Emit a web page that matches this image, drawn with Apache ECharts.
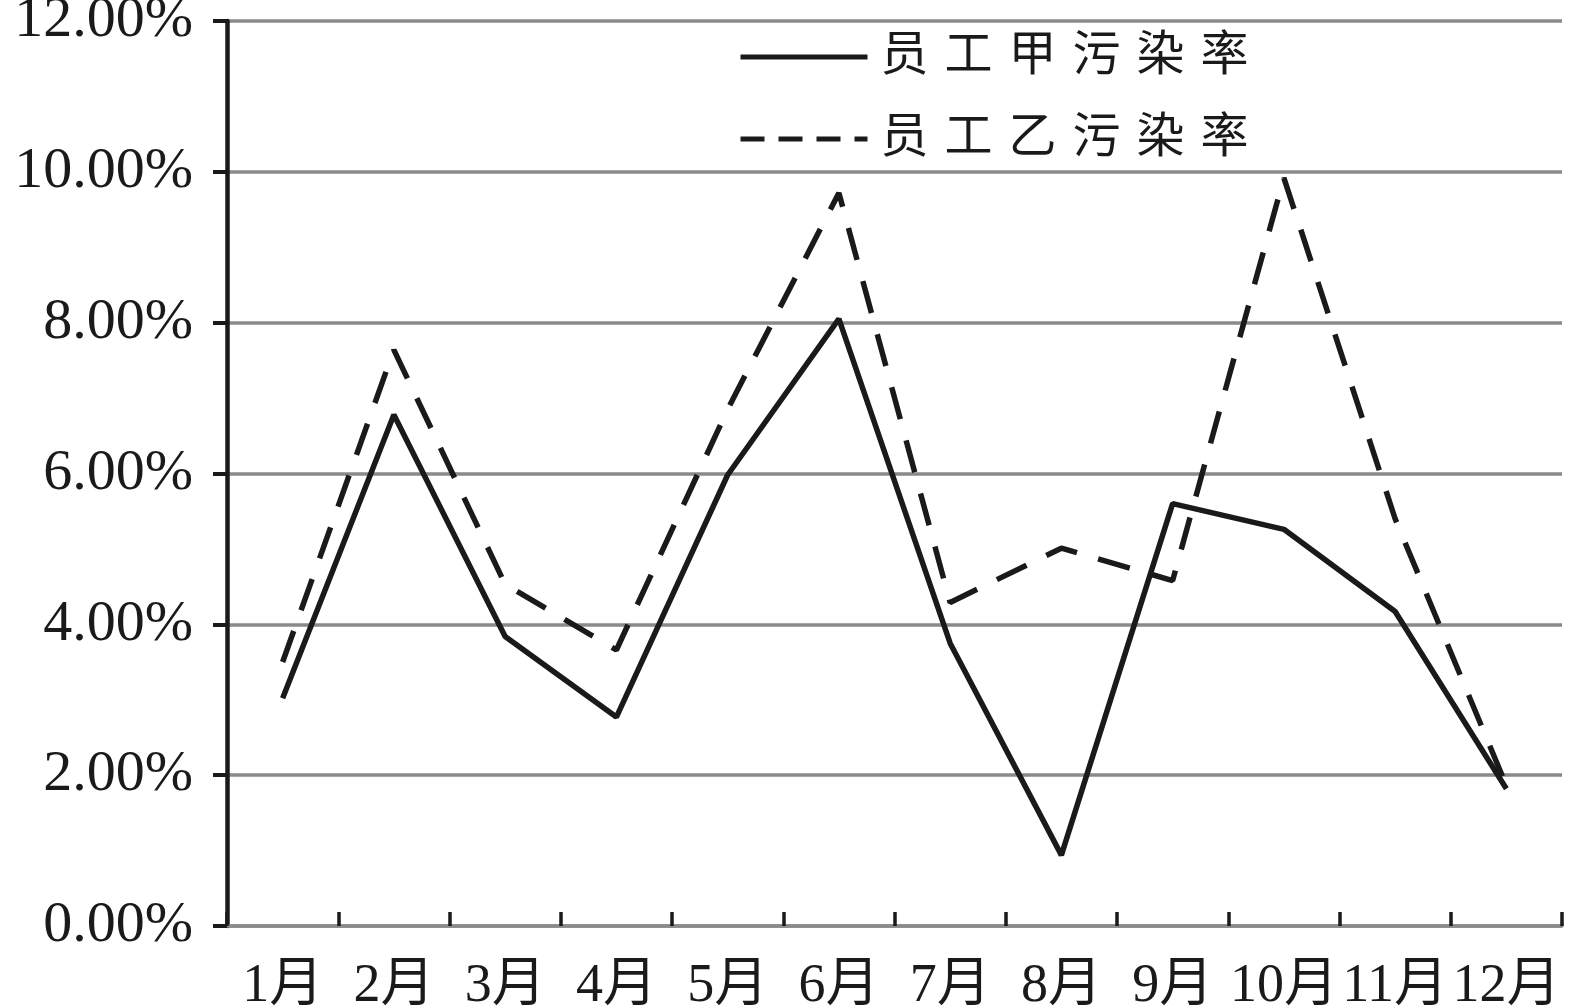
<!DOCTYPE html>
<html>
<head>
<meta charset="utf-8">
<script src="https://cdn.jsdelivr.net/npm/echarts@6/dist/echarts.min.js"></script>
<style>html,body{margin:0;padding:0;background:#fff;}#c{width:1574px;height:1008px;}</style>
</head>
<body>
<div id="c"></div>
<script>
const months = ['1月','2月','3月','4月','5月','6月','7月','8月','9月','10月','11月','12月'];
const seriesNames = ['员工甲污染率', '员工乙污染率'];
const rateA = [3.02, 6.78, 3.84, 2.77, 5.98, 8.05, 3.75, 0.94, 5.60, 5.26, 4.17, 1.82];
const rateB = [3.50, 7.64, 4.53, 3.66, 6.85, 9.72, 4.29, 5.01, 4.58, 9.92, 5.40, 1.86];
const yMin = 0, yMax = 12, yStep = 2;

const FONT = '"Liberation Serif", "Noto Sans CJK SC", serif';
const ink = '#1a1a1a';
const grey = '#8a8a8a';

const chart = echarts.init(document.getElementById('c'));
chart.setOption({
  animation: false,
  backgroundColor: '#fff',
  grid: { left: 227, right: 12, top: 21, bottom: 82, containLabel: false, outerBoundsMode: 'none' },
  legend: {
    orient: 'vertical',
    left: 733,
    top: 28,
    itemWidth: 127,
    itemHeight: 14,
    itemGap: 34,
    data: [
      { name: seriesNames[0], lineStyle: { color: ink, width: 5, type: 'solid' } },
      { name: seriesNames[1], lineStyle: { color: ink, width: 5, type: [24, 14] } }
    ],
    itemStyle: { opacity: 0, borderWidth: 0 },
    lineStyle: { width: 5 },
    formatter: function (name) {
      return name.split('').map(function (ch) { return '{c|' + ch + '}'; }).join('');
    },
    textStyle: {
      color: ink,
      fontFamily: FONT,
      fontSize: 48,
      rich: { c: { fontSize: 48, fontFamily: FONT, color: ink, padding: [0, 8, 0, 8] } }
    },
    itemTextGap: 6
  },
  xAxis: {
    type: 'category',
    data: months,
    boundaryGap: true,
    axisLine: { show: true, lineStyle: { color: grey, width: 3.5 } },
    axisTick: { show: true, inside: true, length: 14, interval: 0, lineStyle: { color: ink, width: 3.5 } },
    axisLabel: { interval: 0, margin: 34, color: ink, fontFamily: FONT, fontSize: 54 },
    splitLine: { show: false }
  },
  yAxis: {
    type: 'value',
    min: yMin, max: yMax, interval: yStep,
    axisLine: { show: true, lineStyle: { color: ink, width: 4.5 } },
    axisTick: { show: true, inside: false, length: 14, lineStyle: { color: ink, width: 4 } },
    axisLabel: {
      margin: 34, color: ink, fontFamily: FONT, fontSize: 58,
      formatter: function (v) { return v.toFixed(2) + '%'; }
    },
    splitLine: { show: true, lineStyle: { color: grey, width: 3.5 } }
  },
  series: [
    {
      name: seriesNames[0], type: 'line', data: rateA,
      symbol: 'none', smooth: false,
      lineStyle: { color: ink, width: 5.5, type: 'solid' },
      itemStyle: { color: ink },
      z: 3
    },
    {
      name: seriesNames[1], type: 'line', data: rateB,
      symbol: 'none', smooth: false,
      lineStyle: { color: ink, width: 5.5, type: [33, 22] },
      itemStyle: { color: ink },
      z: 3
    }
  ]
});
</script>
</body>
</html>
